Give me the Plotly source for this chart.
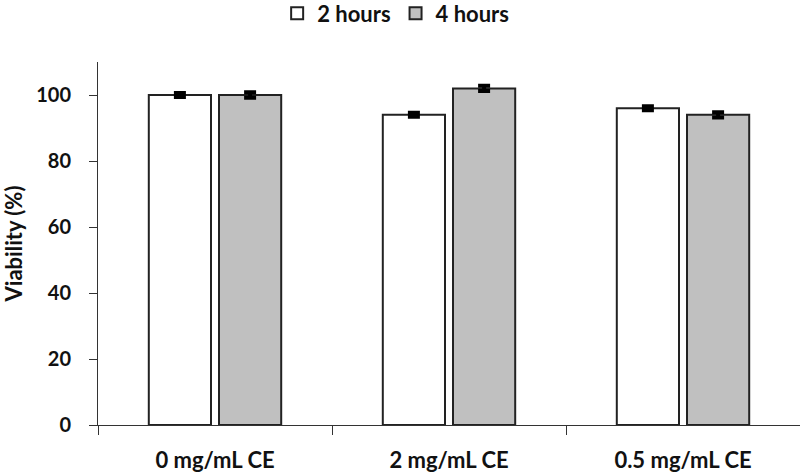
import plotly.graph_objects as go

categories = ["0 mg/mL CE", "2 mg/mL CE", "0.5 mg/mL CE"]
series_names = ["2 hours", "4 hours"]
values_2h = [100, 94, 96]
values_4h = [100, 102, 94]
err_2h = [0.6, 0.6, 0.6]
err_4h = [0.8, 0.8, 0.8]
y_ticks = [0, 20, 40, 60, 80, 100]

font_family = "Lato, 'Open Sans', sans-serif"

fig = go.Figure()
fig.add_trace(go.Bar(
    name=series_names[0], x=categories, y=values_2h,
    marker=dict(color="white", line=dict(color="#222222", width=2)),
    error_y=dict(type="data", array=err_2h, color="black", thickness=4, width=6),
))
fig.add_trace(go.Bar(
    name=series_names[1], x=categories, y=values_4h,
    marker=dict(color="#c0c0c0", line=dict(color="#222222", width=2)),
    error_y=dict(type="data", array=err_4h, color="black", thickness=4, width=6),
))

fig.update_layout(
    width=800, height=473,
    margin=dict(l=98, r=0, t=62, b=48),
    paper_bgcolor="white", plot_bgcolor="white",
    barmode="group", bargap=0.40, bargroupgap=0.114,
    font=dict(family=font_family, size=20, color="#111111", weight="bold"),
    showlegend=True,
    legend=dict(orientation="h", x=0.424, xanchor="center", y=0.9715, yref="container",
                yanchor="middle", font=dict(size=22, family=font_family, weight="bold"),
                traceorder="normal"),
    xaxis=dict(showline=True, linecolor="#333333", linewidth=1, automargin=False,
               ticks="outside", tickson="boundaries", ticklen=9, tickcolor="#333333",
               ticklabelstandoff=16,
               showgrid=False, tickfont=dict(size=22)),
    yaxis=dict(range=[0, 110], showline=True, linecolor="#333333", linewidth=1,
               automargin=False,
               ticks="outside", ticklen=8, tickcolor="#333333", ticklabelstandoff=14,
               tickvals=y_ticks, showgrid=False, zeroline=False,
               title=dict(text="Viability (%)", font=dict(size=22, weight="bold"), standoff=10),
               tickfont=dict(size=20)),
)

fig.write_html("out.html", config={"displayModeBar": False},
               post_script="document.body.style.margin='0';")
